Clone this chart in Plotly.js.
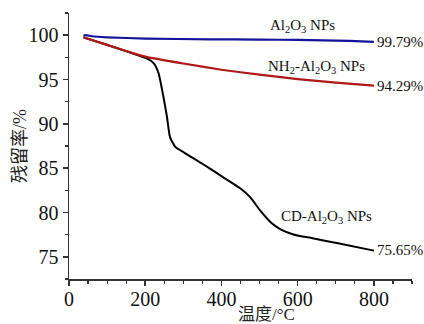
<!DOCTYPE html>
<html>
<head>
<meta charset="utf-8">
<script src="https://cdn.plot.ly/plotly-3.0.1.min.js"></script>
<style>
html,body{margin:0;padding:0;background:#fff;}
#chart{width:424px;height:324px;}
#chart .xtick text, #chart .ytick text, #chart .annotation-text{font-family:"Liberation Serif","Noto Sans CJK SC",serif !important;}
</style>
</head>
<body>
<div id="chart"></div>
<script>
// Temperature (°C) and residual mass (%)
const tempAl = [38, 45, 60, 100, 200, 370, 500, 600, 735, 800];
const massAl = [99.95, 100.0, 99.88, 99.76, 99.62, 99.53, 99.5, 99.46, 99.36, 99.25];

const tempNH = [38, 100, 150, 203, 300, 400, 500, 600, 700, 800];
const massNH = [99.75, 98.9, 98.2, 97.55, 96.8, 96.1, 95.55, 95.05, 94.65, 94.3];

const tempCD = [38, 100, 150, 203, 223, 235, 248, 257, 265, 279, 304, 350, 400, 450, 476, 502, 529, 555, 591, 639, 709, 800];
const massCD = [99.75, 98.9, 98.2, 97.4, 96.8, 95.7, 93.0, 90.8, 88.5, 87.4, 86.7, 85.5, 84.1, 82.7, 81.7, 80.2, 78.9, 78.1, 77.5, 77.1, 76.5, 75.7];

const seriesNames = ["Al<sub>2</sub>O<sub>3</sub> NPs", "NH<sub>2</sub>-Al<sub>2</sub>O<sub>3</sub> NPs", "CD-Al<sub>2</sub>O<sub>3</sub> NPs"];
const endLabels = ["99.79%", "94.29%", "75.65%"];
const xTitle = "温度/°C";
const yTitle = "残留率/%";

const serif = "Liberation Serif";
const cjk = "Liberation Serif, Noto Sans CJK SC";

const traces = [
  {x: tempCD, y: massCD, mode: "lines", line: {color: "#000000", width: 2, shape: "spline", smoothing: 0.5}},
  {x: tempNH, y: massNH, mode: "lines", line: {color: "#b01818", width: 2.2, shape: "spline", smoothing: 0.5}},
  {x: tempAl, y: massAl, mode: "lines", line: {color: "#14149a", width: 2.2, shape: "spline", smoothing: 0.5}}
];

const annFont = {family: serif, size: 15, color: "#111"};
const annotations = [
  {x: 302, y: 26, text: seriesNames[0]},
  {x: 316, y: 67, text: seriesNames[1]},
  {x: 326, y: 217, text: seriesNames[2]},
  {x: 375, y: 42, text: endLabels[0], xanchor: "left"},
  {x: 375, y: 86, text: endLabels[1], xanchor: "left"},
  {x: 375, y: 250, text: endLabels[2], xanchor: "left"}
].map(a => ({
  // pixel placements converted to paper coordinates of the plot area
  x: (a.x - 69) / (412 - 69), y: 1 - (a.y - 13) / (279 - 13),
  xref: "paper", yref: "paper", text: a.text, showarrow: false,
  xanchor: a.xanchor || "center", yanchor: "middle", font: annFont
}));
annotations.push({
  x: (266 - 69) / 343, y: 1 - (314 - 13) / 266, xref: "paper", yref: "paper", text: xTitle,
  showarrow: false, xanchor: "center", yanchor: "middle", font: {family: cjk, size: 17, color: "#222"}
});
annotations.push({
  x: (20 - 69) / 343, y: 0.5, xref: "paper", yref: "paper", text: yTitle, textangle: -90,
  showarrow: false, xanchor: "center", yanchor: "middle", font: {family: cjk, size: 18, color: "#222"}
});

const layout = {
  width: 424, height: 324,
  margin: {l: 69, r: 12, t: 13, b: 45},
  paper_bgcolor: "#fff", plot_bgcolor: "#fff",
  showlegend: false,
  font: {family: serif, size: 20, color: "#111"},
  xaxis: {
    range: [0, 900], tickvals: [0, 200, 400, 600, 800], showgrid: false, zeroline: false,
    showline: true, linecolor: "#333", linewidth: 1.5,
    ticks: "outside", ticklen: 5, tickwidth: 1.5, tickcolor: "#333",
    ticklabelstandoff: -4,
    minor: {dtick: 50, tick0: 0, ticks: "outside", ticklen: 3, tickwidth: 1.2, tickcolor: "#333"},
    tickfont: {family: serif, size: 20, color: "#111"}
  },
  yaxis: {
    range: [72.5, 102.5], tickvals: [75, 80, 85, 90, 95, 100], showgrid: false, zeroline: false,
    showline: true, linecolor: "#333", linewidth: 1.5,
    ticks: "outside", ticklen: 5, tickwidth: 1.5, tickcolor: "#333",
    minor: {dtick: 2.5, tick0: 72.5, ticks: "outside", ticklen: 3, tickwidth: 1.2, tickcolor: "#333"},
    tickfont: {family: serif, size: 20, color: "#111"}
  },
  annotations: annotations
};

Plotly.newPlot("chart", traces, layout, {staticPlot: true, displayModeBar: false});
</script>
</body>
</html>
